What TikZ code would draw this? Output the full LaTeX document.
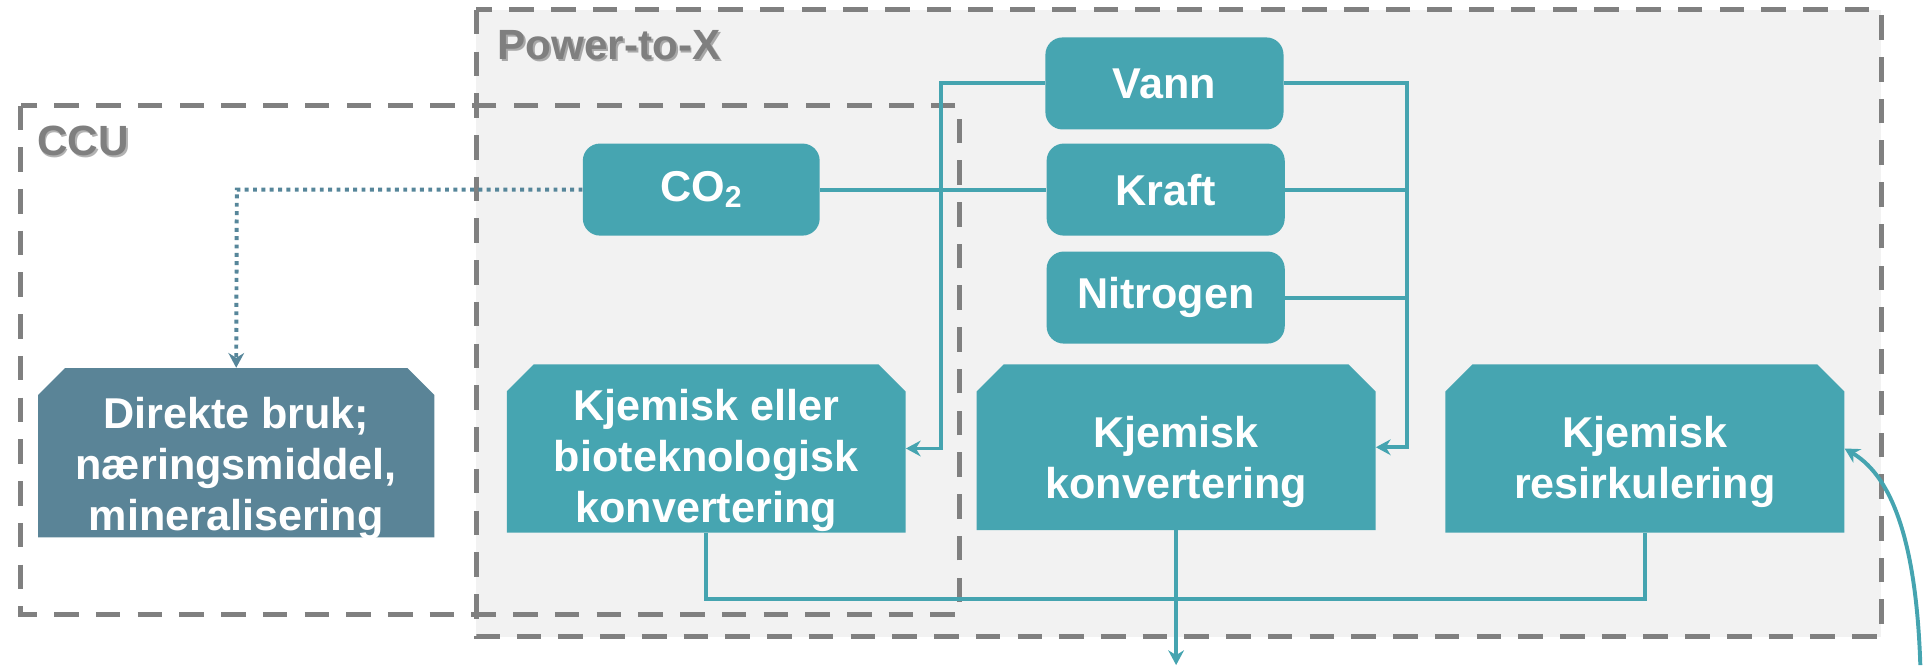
\documentclass[tikz,border=0pt]{standalone}
\usepackage{fontspec}
\setmainfont{Liberation Sans}
\usetikzlibrary{arrows.meta,calc}
\definecolor{tealbox}{HTML}{46A5B1}
\definecolor{tealline}{HTML}{45A4B0}
\definecolor{slatebox}{HTML}{5A8497}
\definecolor{slateline}{HTML}{56869A}
\definecolor{bordergray}{HTML}{808080}
\definecolor{ptxfill}{HTML}{F2F2F2}
\definecolor{labelgray}{HTML}{7F7F7F}
\newcommand\chambox[8]{%
  \node[inner sep=0pt, minimum width={#4*0.025cm}, minimum height={#5*0.025cm}] (#1) at (#2,#3) {};
  \fill[#6] ({#2-#4/2},{#3+#5/2}) -- ({#2-#4/2},{#3-#5/2+22}) -- ({#2-#4/2+22},{#3-#5/2})
     -- ({#2+#4/2-22},{#3-#5/2}) -- ({#2+#4/2},{#3-#5/2+22}) -- ({#2+#4/2},{#3+#5/2}) -- cycle;
  \node[boxtext] (#1-t) at ([yshift=#7]#1.center) {#8};
}
\begin{document}
\begin{tikzpicture}[x=0.025cm,y=-0.025cm,
  boxtext/.style={text=white, align=center, font=\bfseries\fontsize{25}{29.5}\selectfont},
  rbox/.style={rounded corners=0.35cm, fill=tealbox, inner sep=0pt, boxtext,
     minimum width=4.85cm, minimum height=1.875cm},
  region/.style={draw=bordergray, line width=0.1cm, dash pattern=on 0.5cm off 0.35cm},
  regionlabel/.style={text=labelgray, anchor=west, inner sep=0pt, font=\bfseries\fontsize{24.5}{29}\selectfont},
  shadowlabel/.style={text=black, opacity=0.3, anchor=west, inner sep=0pt, font=\bfseries\fontsize{24.5}{29}\selectfont},
  link/.style={draw=tealline, line width=0.08cm},
  tip/.style={-{Stealth[length=0.3cm,width=0.32cm]}},
  dotlink/.style={draw=slateline, line width=0.08cm, dash pattern=on 0.08cm off 0.09cm}
]
\useasboundingbox (0,0) rectangle (1568,542);
% regions
\path[region, fill=ptxfill] (388,8) rectangle (1533,519);
\path[region] (17,86) rectangle (782,501);
\node[shadowlabel] (ptxs) at (406.5,38.5) {Power-to-X};
\node[regionlabel] (ptx) at (405,37) {Power-to-X};
\node[shadowlabel] (ccus) at (31.5,116.5) {CCU};
\node[regionlabel] (ccu) at (30,115) {CCU};
% input boxes
\node[rbox, minimum width=4.825cm] (co2) at (571.5,154.5) {CO\textsubscript{2}};
\node[rbox] (vann) at (949,68) {Vann};
\node[rbox] (kraft) at (950,154.5) {Kraft};
\node[rbox] (nitro) at (950,242.5) {Nitrogen};
% process boxes
\chambox{direkte}{192.5}{369}{323}{138}{slatebox}{-0.32cm}{Direkte bruk;\\næringsmiddel,\\mineralisering}
\chambox{kbio}{575.5}{365.5}{325}{137}{tealbox}{-0.24cm}{Kjemisk eller\\bioteknologisk\\konvertering}
\chambox{kkonv}{958.5}{364.5}{325}{135}{tealbox}{-0.3cm}{Kjemisk\\konvertering}
\chambox{kres}{1340.5}{365.5}{325}{137}{tealbox}{-0.28cm}{Kjemisk\\resirkulering}
% connectors
\coordinate (vl) at (767,68);
\coordinate (vr) at (1147,68);
\coordinate (out) at (958.5,542);
\coordinate (inc) at (1565,542);
\coordinate (dl) at (193,154.5);
\draw[link] (co2.east) -- (kraft.west);
\draw[link, tip] (vann.west) -- (vl) |- (kbio.east);
\draw[link, tip] (vann.east) -- (vr) |- (kkonv.east);
\draw[link] (kraft.east) -- (kraft.east -| vr);
\draw[link] (nitro.east) -- (nitro.east -| vr);
\draw[link] (kbio.south) -- ++(0,54) -| (kres.south);
\draw[link, tip] (kkonv.south) -- (out);
\draw[link, tip] (inc) .. controls (1562,450) and (1545,390) .. (kres.east);
\draw[dotlink, tip] (co2.west) -- (dl) -- (direkte.north);
\end{tikzpicture}
\end{document}
